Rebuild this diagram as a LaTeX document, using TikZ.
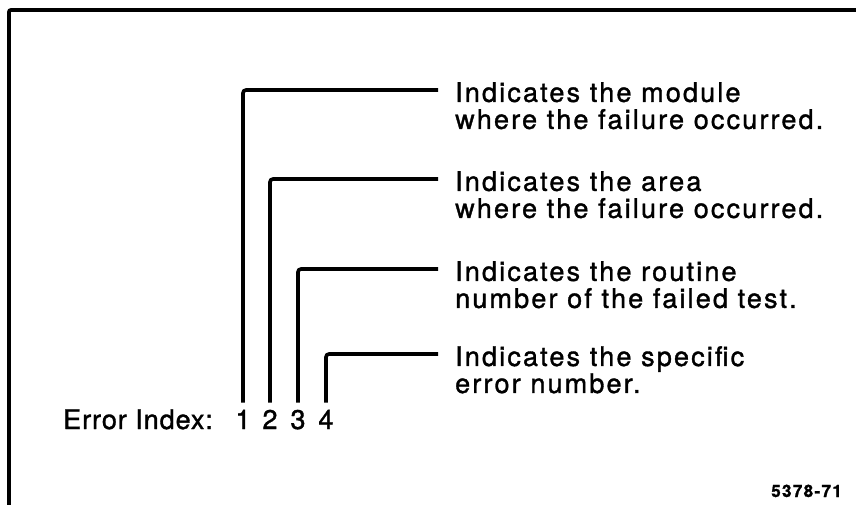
\documentclass[tikz,border=0pt]{standalone}
\usepackage{fontspec}
\setmainfont{TeX Gyre Heros}[LetterSpace=8.0, FakeBold=1.3]
\usetikzlibrary{calc}

\begin{document}
\begin{tikzpicture}[
      x=1pt, y=-1pt,
      descr/.style={anchor=north west, inner sep=0pt, align=left, font=\fontsize{27}{27}\selectfont},
      digit/.style={anchor=base, inner sep=0pt, font=\fontsize{27}{27}\selectfont},
      lead/.style={line width=3.6pt, rounded corners=3pt, shorten <=7pt},
      frame/.style={line width=3.8pt, rounded corners=2pt}
  ]
      \useasboundingbox (0,0) rectangle (856,505);

      % Moldura (apenas topo e lado esquerdo)
      \draw[frame] (9,507) |- (858,10);

      % Linha de indice
      \node[digit, anchor=base west, font=\fontsize{27}{27}\selectfont\addfontfeature{LetterSpace=3.5}] (lbl) at (63,429) {Error Index:};
      \foreach \i/\x in {1/243,2/270,3/298,4/326}
          \node[digit] (d\i) at (\x,429) {\i};

      % Descricoes
      \node[descr] (desc1) at (455,82) {Indicates the module\\where the failure occurred.};
      \node[descr] (desc2) at (455,171) {Indicates the area\\where the failure occurred.};
      \node[descr] (desc3) at (455,261) {Indicates the routine\\number of the failed test.};
      \node[descr] (desc4) at (455,346) {Indicates the specific\\error number.};

      % Linhas de chamada
      \foreach \i in {1,...,4}
          \draw[lead] (d\i.north) |- ([xshift=-17pt,yshift=-8pt]desc\i.north west);

      % Referencia da figura
      \node[anchor=base east, inner sep=0pt, font=\fontsize{17}{17}\selectfont\bfseries] (ref) at (842,497) {5378-71};
  \end{tikzpicture}
\end{document}
